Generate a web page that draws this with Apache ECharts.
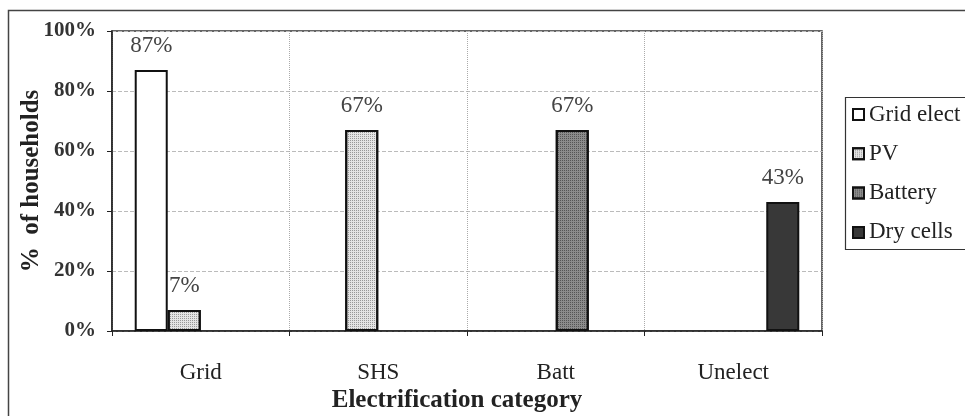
<!DOCTYPE html>
<html>
<head>
<meta charset="utf-8">
<script src="https://cdn.jsdelivr.net/npm/echarts@6/dist/echarts.min.js"></script>
<style>
  html, body { margin: 0; padding: 0; background: #fff; }
  #chart { width: 965px; height: 416px; }
</style>
</head>
<body>
<div id="chart"></div>
<script>
// Share of households (%) using each energy source, by electrification category
const categories = ['Grid', 'SHS', 'Batt', 'Unelect'];
const seriesNames = ['Grid elect', 'PV', 'Battery', 'Dry cells'];
const gridElect = [87, null, null, null];
const pv        = [7, 67, null, null];
const battery   = [null, null, 67, null];
const dryCells  = [null, null, null, 43];
const yTicks    = [0, 20, 40, 60, 80, 100];

const serif = '"Liberation Serif", "Times New Roman", serif';

const chart = echarts.init(document.getElementById('chart'), null, { renderer: 'canvas' });

// stippled fill for the PV and battery bars
function dotted(fill, dot) {
  return {
    color: fill,
    borderColor: '#111',
    borderWidth: 2,
    decal: {
      symbol: 'rect',
      symbolSize: 1,
      color: dot,
      dashArrayX: [1, 1],
      dashArrayY: [1, 1],
      rotation: 0
    }
  };
}

const styles = [
  { color: '#ffffff', borderColor: '#111', borderWidth: 2 },
  dotted('#e4e4e4', 'rgba(90,90,90,0.55)'),
  dotted('#8c8c8c', 'rgba(40,40,40,0.55)'),
  { color: '#383838', borderColor: '#111', borderWidth: 2 }
];

const dataSets = [gridElect, pv, battery, dryCells];

const series = dataSets.map((vals, i) => ({
  name: seriesNames[i],
  type: 'bar',
  data: vals,
  barGap: '0%',
  barCategoryGap: '25.6%',
  itemStyle: styles[i],
  label: {
    show: true,
    position: 'top',
    distance: 13,
    formatter: p => p.value + '%',
    fontFamily: serif,
    fontSize: 23,
    color: '#444'
  }
}));

chart.setOption({
  animation: false,
  backgroundColor: '#fff',
  grid: {
    left: 112, right: 143, top: 31, bottom: 85,
    outerBoundsMode: 'none',
    containLabel: false,
    show: true, borderColor: '#333', borderWidth: 1.5
  },
  legend: {
    orient: 'vertical',
    left: 847,
    top: 98,
    itemWidth: 11,
    itemHeight: 11,
    itemGap: 16.3,
    icon: 'rect',
    textStyle: { fontFamily: serif, fontSize: 23, color: '#222', lineHeight: 23 },
    data: seriesNames
  },
  xAxis: {
    type: 'category',
    data: categories,
    name: 'Electrification category',
    nameLocation: 'middle',
    nameGap: 57,
    nameMoveOverlap: false,
    nameTextStyle: { fontFamily: serif, fontSize: 25, fontWeight: 'bold', color: '#222', padding: [0, 20, 0, 0] },
    axisLine: { lineStyle: { color: '#222', width: 1.5 } },
    axisTick: { show: true, length: 5, lineStyle: { color: '#222' } },
    axisLabel: { margin: 30, fontFamily: serif, fontSize: 23, color: '#222' },
    splitLine: { show: true, lineStyle: { color: '#aaa', type: 'dotted', width: 1 } }
  },
  yAxis: {
    type: 'value',
    min: 0, max: 100, interval: 20,
    name: '%  of households',
    nameLocation: 'middle',
    nameGap: 68,
    nameMoveOverlap: false,
    nameTextStyle: { fontFamily: serif, fontSize: 25, fontWeight: 'bold', color: '#222' },
    axisLine: { show: true, lineStyle: { color: '#222', width: 1.5 } },
    axisTick: { show: true, length: 5, lineStyle: { color: '#222' } },
    axisLabel: {
      margin: 16, fontFamily: serif, fontSize: 21, fontWeight: 'bold', color: '#333',
      formatter: v => (yTicks.includes(v) ? v + '%' : '')
    },
    splitLine: { show: true, lineStyle: { color: '#bbb', type: 'dashed', width: 1 } }
  },
  graphic: [
    {
      type: 'rect',
      shape: { x: 8.5, y: 10.5, width: 1000, height: 500 },
      style: { fill: 'none', stroke: '#444', lineWidth: 1.5 },
      silent: true, z: -1
    },
    {
      type: 'rect',
      shape: { x: 845.5, y: 97.5, width: 200, height: 152 },
      style: { fill: 'none', stroke: '#333', lineWidth: 1.2 },
      silent: true, z: -1
    }
  ],
  series: series
});
</script>
</body>
</html>
